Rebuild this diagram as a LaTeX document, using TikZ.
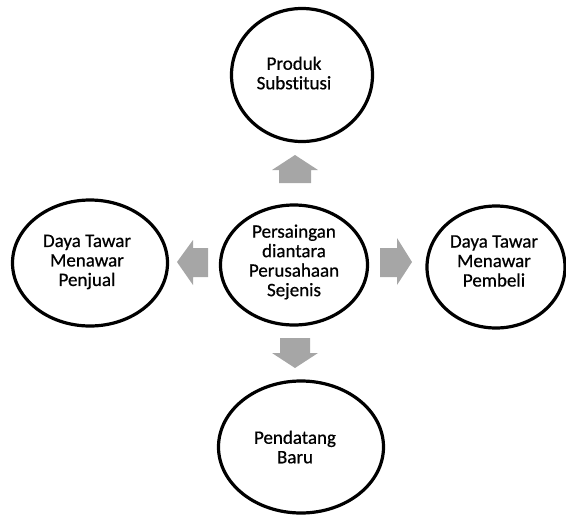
\documentclass[tikz,border=0pt]{standalone}
\usepackage{fontspec}
\setmainfont{Carlito}[Ligatures=NoCommon, FakeBold=0.6]
\usetikzlibrary{shapes.geometric}
\definecolor{arrowgrey}{HTML}{A6A6A6}
\tikzset{
  circ/.style={draw=black, line width=3.2pt, ellipse, fill=white, inner sep=0pt},
  txt/.style={align=center, font=\fontsize{19pt}{19.5pt}\selectfont, inner sep=0pt},
  blockarrow/.style={fill=arrowgrey, draw=none}
}
\begin{document}
\begin{tikzpicture}[x=1pt,y=-1pt]
\useasboundingbox (0,0) rectangle (566,515);
% circles
\node[circ, minimum width=141pt, minimum height=133pt] (top) at (302,75) {};
\node[circ, minimum width=147pt, minimum height=120pt] (mid) at (294,265) {};
\node[circ, minimum width=155pt, minimum height=126pt] (left) at (90,263) {};
\node[circ, minimum width=138pt, minimum height=122pt] (right) at (496,267) {};
\node[circ, minimum width=165pt, minimum height=132pt] (bottom) at (301,447) {};
% texts
\node[txt] (toptxt) at (294,73) {Produk\\Substitusi};
\node[txt] (midtxt) at (294,262) {Persaingan\\diantara\\Perusahaan\\Sejenis};
\node[txt] (lefttxt) at (87,262) {Daya Tawar\\Menawar\\Penjual};
\node[txt] (righttxt) at (494,261) {Daya Tawar\\Menawar\\Pembeli};
\node[txt] (bottomtxt) at (295,447) {Pendatang\\Baru};
% block arrows
\fill[blockarrow] (279,183) -- (279,170) -- (272,170) -- (295,155) -- (318,170) -- (311,170) -- (311,183) -- cycle;
\fill[blockarrow] (280,338) -- (310,338) -- (310,353) -- (318,353) -- (295,368) -- (272,353) -- (280,353) -- cycle;
\fill[blockarrow] (208,248) -- (193,248) -- (193,240) -- (177,262) -- (193,285) -- (193,277) -- (208,277) -- cycle;
\fill[blockarrow] (380,248) -- (397,248) -- (397,238) -- (412,262) -- (397,285) -- (397,277) -- (380,277) -- cycle;
\end{tikzpicture}
\end{document}
